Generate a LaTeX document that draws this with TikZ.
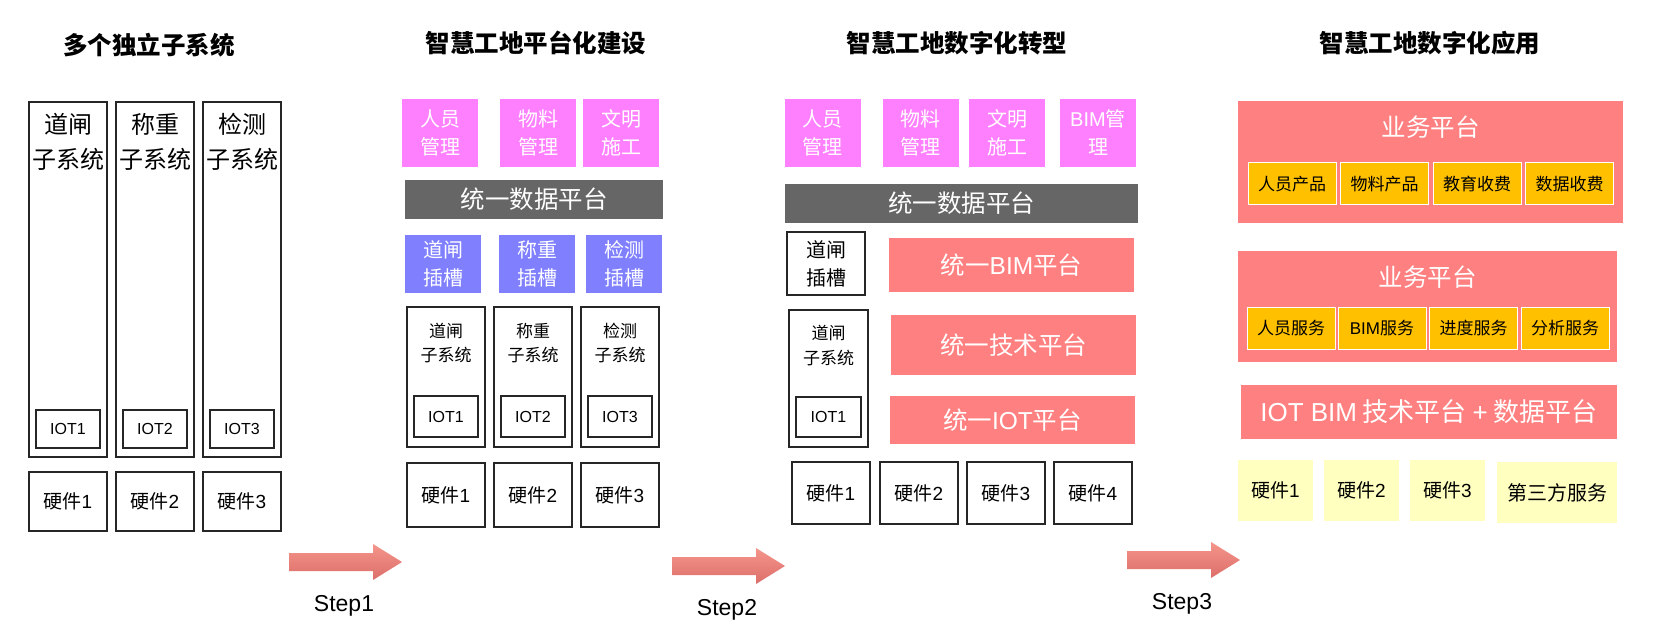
\documentclass[tikz,border=0pt]{standalone}
\usepackage{fontspec}
\setmainfont{Noto Sans CJK SC}
\newfontfamily\latin{Liberation Sans}
\newcommand\lt[1]{{\latin #1}}

\definecolor{modpink}{HTML}{FF80FF}
\definecolor{databar}{HTML}{666666}
\definecolor{slotblue}{HTML}{8080FF}
\definecolor{platred}{HTML}{FF8080}
\definecolor{prodorange}{HTML}{FFC000}
\definecolor{hwyellow}{HTML}{FFFFC0}
\definecolor{arrowtop}{HTML}{F4958C}
\definecolor{arrowbot}{HTML}{DD6E69}

\begin{document}
\begin{tikzpicture}
      [x=1pt,y=-1pt
      ,title/.style={font=\bfseries\fontsize{24.5}{28}\selectfont}
      ,sysbox/.style={draw=black!85,line width=1.3pt,inner sep=0pt}
      ,fillbox/.style={inner sep=0pt,text=white,align=center}
      ,twoline/.style={font=\fontsize{20}{28}\selectfont,align=center}
      ,small/.style={font=\fontsize{17}{24.5}\selectfont,align=center}
      ,hwfont/.style={font=\fontsize{19}{22}\selectfont}
      ,iotfont/.style={font=\latin\fontsize{16}{18}\selectfont}
      ,platfont/.style={font=\fontsize{24.5}{28}\selectfont}
      ,prodbox/.style={fill=prodorange,draw=white,line width=1pt,inner sep=0pt
                      ,minimum width=88,font=\fontsize{17}{20}\selectfont}
      ,steplabel/.style={font=\latin\fontsize{23}{26}\selectfont}
      ]
        \fill[white] (0,0) rectangle (1660,636);
        \useasboundingbox (0,0) rectangle (1660,636);

        % titles
        \node[title] (t1) at (149,45) {多个独立子系统};
        \node[title] (t2) at (536,43) {智慧工地平台化建设};
        \node[title] (t3) at (957,43) {智慧工地数字化转型};
        \node[title] (t4) at (1430,43) {智慧工地数字化应用};

        % stage 1: separate subsystems
        \foreach \n/\cx/\t in {1/68/道闸,2/155/称重,3/242/检测}{
          \node[sysbox,minimum width=78,minimum height=355] (a-col\n) at (\cx,279.5) {};
          \node[font=\fontsize{24}{35}\selectfont,align=center] (a-txt\n) at (\cx,141.5) {\t\\子系统};
          \node[sysbox,iotfont,minimum width=64,minimum height=38] (a-iot\n) at (\cx,429) {IOT\n};
          \node[sysbox,hwfont,minimum width=78,minimum height=59] (a-hw\n) at (\cx,501.5) {硬件\lt{\n}};
        }

        % stage 2: platform
        \foreach \n/\cx/\t in {1/440/人员\\管理,2/538/物料\\管理,3/621/文明\\施工}{
          \node[fillbox,twoline,fill=modpink,minimum width=76,minimum height=68] (b-mod\n) at (\cx,133) {\t};
        }
        \node[fillbox,platfont,fill=databar,minimum width=258,minimum height=39] (b-data) at (534,199.5) {统一数据平台};
        \foreach \n/\cx/\sx/\t in {1/443/446/道闸,2/537/533/称重,3/624/620/检测}{
          \node[fillbox,twoline,fill=slotblue,minimum width=76,minimum height=58] (b-slot\n) at (\cx,264) {\t\\插槽};
          \node[sysbox,minimum width=78,minimum height=140] (b-sys\n) at (\sx,377) {};
          \node[small] (b-txt\n) at (\sx,343) {\t\\子系统};
          \node[sysbox,iotfont,minimum width=64,minimum height=41] (b-iot\n) at (\sx,416.5) {IOT\n};
          \node[sysbox,hwfont,minimum width=78,minimum height=64] (b-hw\n) at (\sx,495) {硬件\lt{\n}};
        }

        % stage 3: digital transformation
        \foreach \n/\cx/\t in {1/822.5/人员\\管理,2/920.5/物料\\管理,3/1007/文明\\施工,4/1098/\lt{BIM}管\\理}{
          \node[fillbox,twoline,fill=modpink,minimum width=76,minimum height=68] (c-mod\n) at (\cx,133) {\t};
        }
        \node[fillbox,platfont,fill=databar,minimum width=353,minimum height=39] (c-data) at (961.5,203.5) {统一数据平台};
        \node[sysbox,twoline,minimum width=78,minimum height=63] (c-slot) at (826,263.5) {道闸\\插槽};
        \node[fillbox,platfont,fill=platred,minimum width=245,minimum height=54] (c-bim) at (1011.5,265) {统一\lt{BIM}平台};
        \node[sysbox,minimum width=79,minimum height=137] (c-sys) at (828.5,378.5) {};
        \node[small,font=\fontsize{17}{25}\selectfont] (c-txt) at (828.5,345.5) {道闸\\子系统};
        \node[sysbox,iotfont,minimum width=65,minimum height=40] (c-iot) at (828.5,417) {IOT1};
        \node[fillbox,platfont,fill=platred,minimum width=245,minimum height=60] (c-tech) at (1013.5,345) {统一技术平台};
        \node[fillbox,platfont,fill=platred,minimum width=245,minimum height=48] (c-iotp) at (1012.5,420) {统一\lt{IOT}平台};
        \foreach \n/\cx in {1/831,2/919,3/1006,4/1093}{
          \node[sysbox,hwfont,minimum width=78,minimum height=62] (c-hw\n) at (\cx,493) {硬件\lt{\n}};
        }

        % stage 4: applications
        \node[fill=platred,minimum width=385,minimum height=122,inner sep=0pt] (d-biz1) at (1430.5,162) {};
        \node[platfont,text=white] (d-biz1t) at (1430.5,127) {业务平台};
        \foreach \n/\cx/\t in {1/1292/人员产品,2/1384.5/物料产品,3/1477/教育收费,4/1569.5/数据收费}{
          \node[prodbox,minimum height=42] (d-prod\n) at (\cx,184) {\t};
        }
        \node[fill=platred,minimum width=379,minimum height=111,inner sep=0pt] (d-biz2) at (1427.5,306.5) {};
        \node[platfont,text=white] (d-biz2t) at (1427.5,277) {业务平台};
        \foreach \n/\cx/\t in {1/1291/人员服务,2/1382/\lt{BIM}服务,3/1473.5/进度服务,4/1565/分析服务}{
          \node[prodbox,minimum height=41] (d-serv\n) at (\cx,328.5) {\t};
        }
        \node[fillbox,fill=platred,font=\fontsize{26}{30}\selectfont,minimum width=376,minimum height=54] (d-base) at (1429,412) {\lt{IOT BIM} 技术平台 \lt{+} 数据平台};
        \foreach \n/\cx in {1/1275.5,2/1361.5,3/1447.5}{
          \node[fill=hwyellow,hwfont,inner sep=0pt,minimum width=75,minimum height=61] (d-hw\n) at (\cx,490.5) {硬件\lt{\n}};
        }
        \node[fill=hwyellow,font=\fontsize{20}{24}\selectfont,inner sep=0pt,minimum width=120,minimum height=61] (d-third) at (1557,492.5) {第三方服务};

        % step arrows
        \foreach \x/\y/\s in {289/562/1,672/566/2,1127/560/3}{
          \shade[top color=arrowtop,bottom color=arrowbot]
            (\x,\y-9) -- ++(84,0) -- ++(0,-9) -- ++(29,18) -- ++(-29,18) -- ++(0,-9) -- ++(-84,0) -- cycle;
          \node[steplabel] (step\s) at (\x+55,\y+44) {Step\s};
        }
      \end{tikzpicture}
\end{document}
